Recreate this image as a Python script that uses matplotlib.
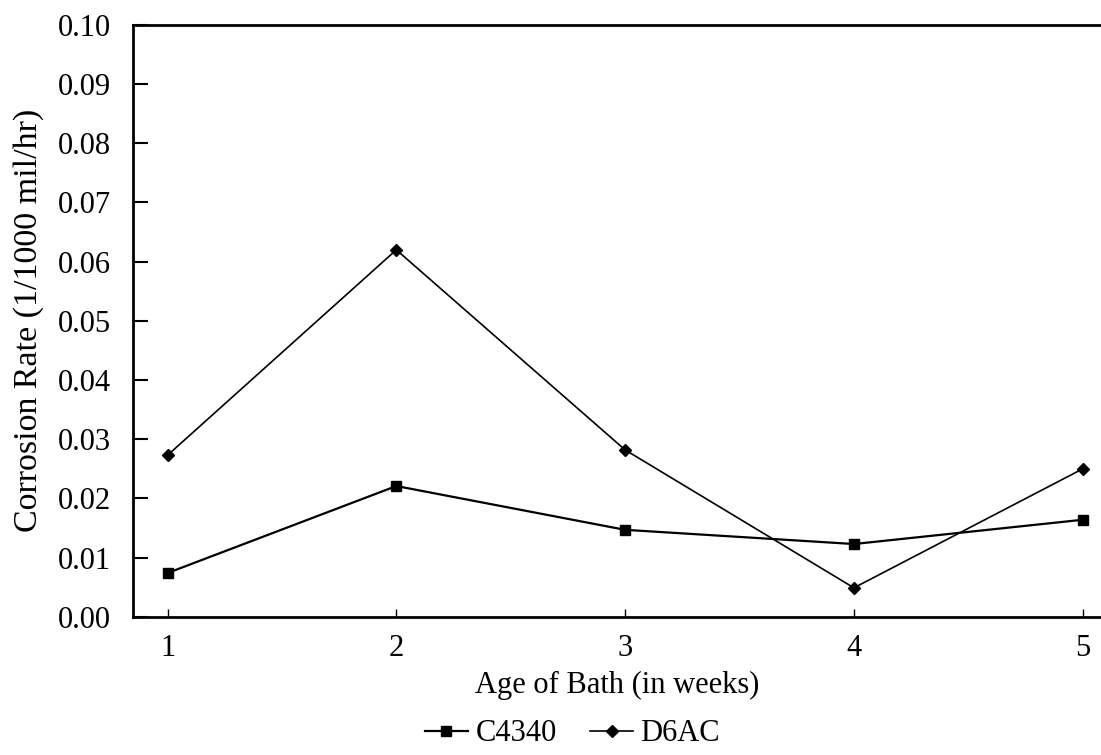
import matplotlib
matplotlib.use('Agg')
import matplotlib.pyplot as plt

weeks = [1, 2, 3, 4, 5]
c4340 = [0.0074, 0.0221, 0.0147, 0.0123, 0.0164]
d6ac = [0.0273, 0.0620, 0.0282, 0.0049, 0.0250]
yticks = [0.00, 0.01, 0.02, 0.03, 0.04, 0.05, 0.06, 0.07, 0.08, 0.09, 0.10]

plt.rcParams['font.family'] = ['Liberation Serif', 'DejaVu Serif']

fig = plt.figure(figsize=(11.01, 7.55), dpi=100)
ax = fig.add_axes([0.121, 0.183, 0.879, 0.784])

ax.plot(weeks, c4340, color='black', lw=1.6, marker='s', ms=7, label='C4340')
ax.plot(weeks, d6ac, color='black', lw=1.2, marker='D', ms=6, label='D6AC')

ax.set_xlim(0.85, 5.08)
ax.set_ylim(0, 0.10)
ax.set_xticks(weeks)
ax.set_yticks(yticks)
ax.set_yticklabels(['%.2f' % t for t in yticks])
ax.tick_params(axis='y', direction='in', length=11, width=1.5, labelsize=22, pad=16)
ax.tick_params(axis='x', direction='in', length=6, width=1, labelsize=22, pad=12)

ax.spines['right'].set_visible(False)
for s in ['left', 'top', 'bottom']:
    ax.spines[s].set_linewidth(2)

ax.set_xlabel('Age of Bath (in weeks)', fontsize=22, labelpad=6)
ax.set_ylabel('Corrosion Rate (1/1000 mil/hr)', fontsize=24.5, labelpad=10)

fig.legend(loc='center', bbox_to_anchor=(0.52, 0.028), ncol=2, frameon=False,
           fontsize=22, handlelength=1.4, handletextpad=0.25, columnspacing=1.1,
           borderpad=0)

fig.savefig('out.png', dpi=100)
